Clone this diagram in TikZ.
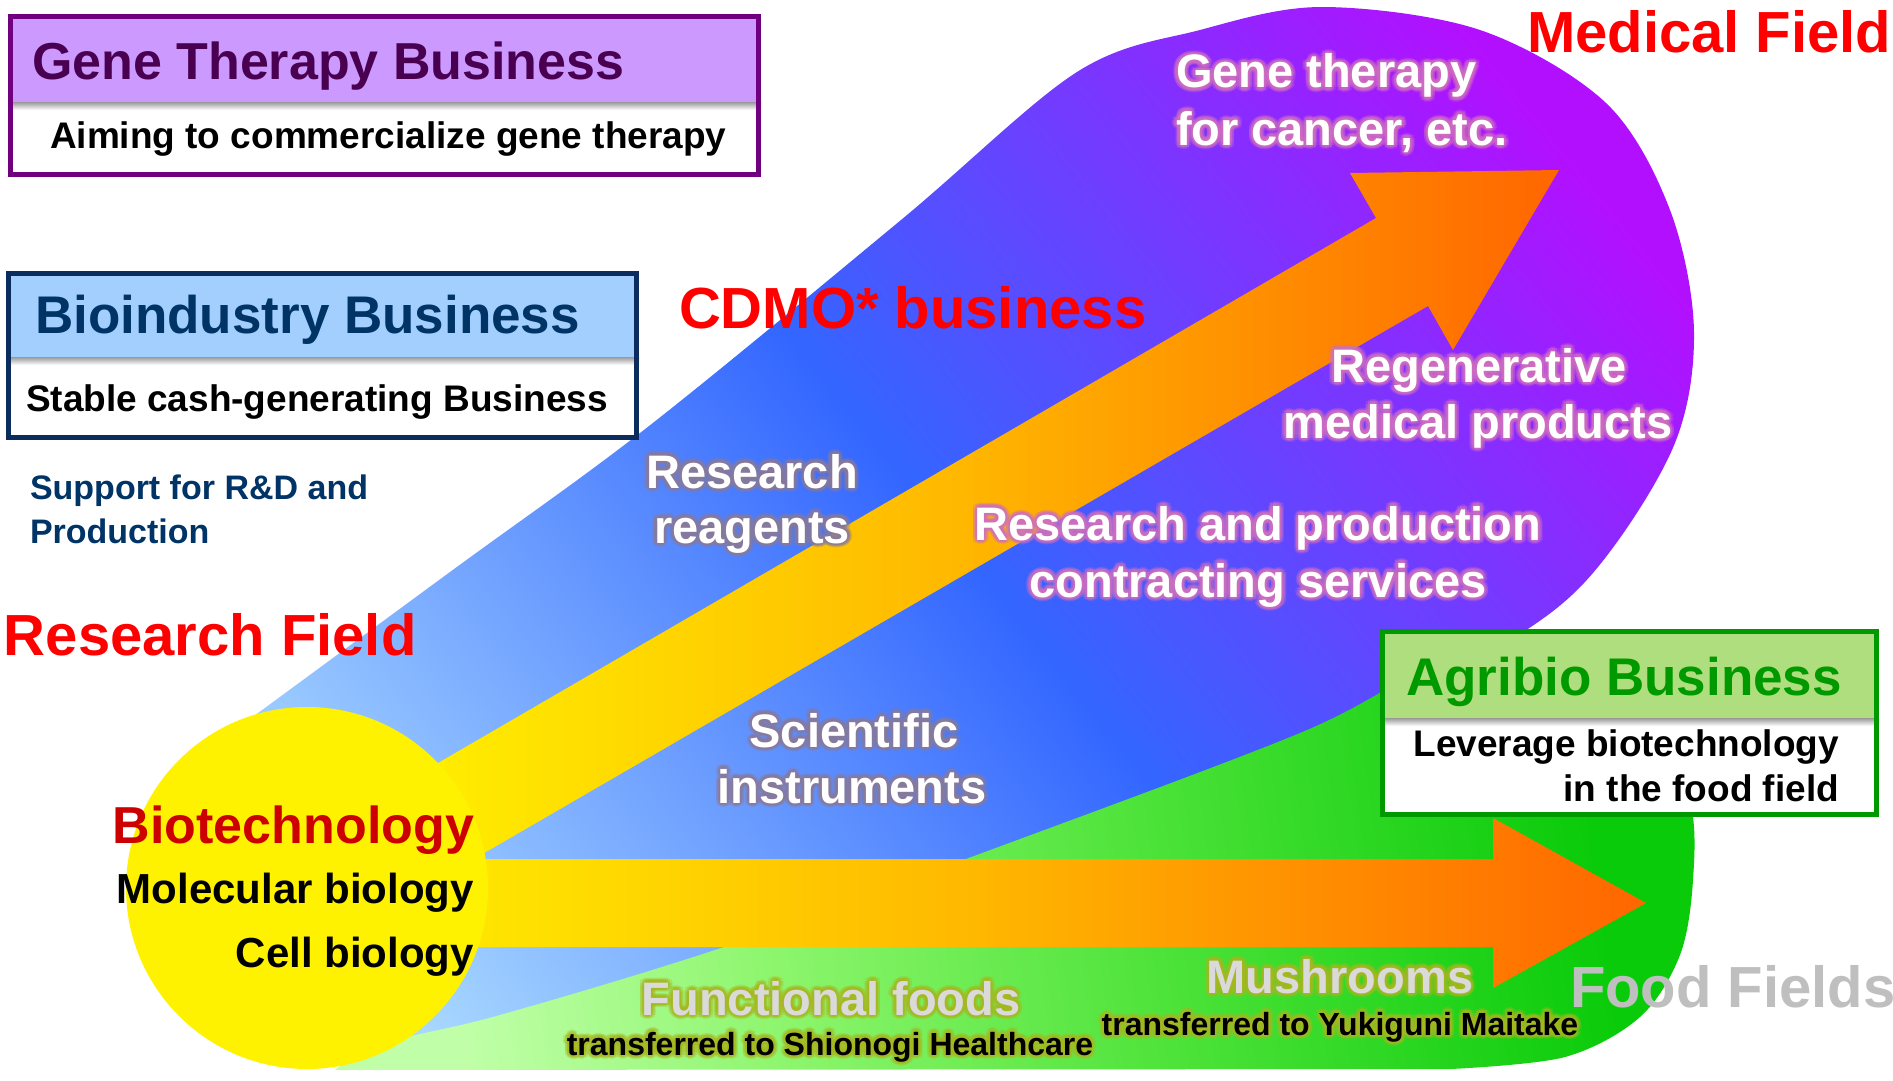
\documentclass[tikz,border=0pt]{standalone}
\usepackage{fontspec}
\setmainfont{Liberation Sans}
\usetikzlibrary{calc}
\definecolor{gtband}{HTML}{CC99FF}
\definecolor{gtborder}{HTML}{700080}
\definecolor{gttext}{HTML}{4A0050}
\definecolor{biband}{HTML}{A3CFFF}
\definecolor{biborder}{HTML}{0B2D5E}
\definecolor{bitext}{HTML}{003366}
\definecolor{agband}{HTML}{AEDE7E}
\definecolor{agborder}{HTML}{009900}
\definecolor{agtext}{HTML}{009900}
\definecolor{redlbl}{HTML}{FF0000}
\definecolor{biotech}{HTML}{CC0000}
\definecolor{foodgray}{HTML}{BFBFBF}
\definecolor{lightgray}{HTML}{DADADA}
\definecolor{bfa}{HTML}{A8D8FF}
\definecolor{bfb}{HTML}{3366FF}
\definecolor{bfc}{HTML}{B30FFF}
\definecolor{gfa}{HTML}{C0FFA8}
\definecolor{gfb}{HTML}{8CF56C}
\definecolor{gfc}{HTML}{4EE33A}
\definecolor{gfd}{HTML}{0ACB0A}
\definecolor{ya}{HTML}{FFF500}
\definecolor{yb}{HTML}{FFB800}
\definecolor{yc}{HTML}{FF6600}
\definecolor{pinkglow}{HTML}{D070C0}
\definecolor{greyglow}{HTML}{8A7A9A}
\definecolor{oliveglow}{HTML}{A8B820}
\pgfdeclarehorizontalshading{bluefan}{100bp}{color(0bp)=(bfa); color(22bp)=(bfa); color(50bp)=(bfb); color(78bp)=(bfc); color(100bp)=(bfc)}
\pgfdeclarehorizontalshading{greenfan}{100bp}{color(0bp)=(gfa); color(27bp)=(gfa); color(40bp)=(gfb); color(55bp)=(gfc); color(73bp)=(gfd); color(100bp)=(gfd)}
\pgfdeclarehorizontalshading{arrowsh}{100bp}{color(0bp)=(ya); color(25bp)=(ya); color(50bp)=(yb); color(75bp)=(yc); color(100bp)=(yc)}
\newcommand\fsz[1]{\fontsize{#1pt}{#1pt}\selectfont\bfseries}
\newcommand\glowtext[5]{%
  \foreach \ga in {0,30,...,330}{%
    \node[lbl,#3,text=#4,text opacity=0.25,xshift={4.5*cos(\ga)},yshift={4.5*sin(\ga)}] at (#2) {#5};
    \node[lbl,#3,text=#4,text opacity=0.25,xshift={2.5*cos(\ga)},yshift={2.5*sin(\ga)}] at (#2) {#5};
  }%
  \node[lbl,#3] (#1) at (#2) {#5};%
}
\begin{document}
\begin{tikzpicture}[x=1pt,y=-1pt,
  lbl/.style={inner sep=0pt, outer sep=0pt},
  glowW/.style={anchor=base, font=\fsz{47}, text=white},
  glowG/.style={anchor=base, font=\fsz{47}, text=lightgray},
  glowS/.style={anchor=base, font=\fsz{32}, text=black},
  bigred/.style={lbl, anchor=base west, font=\fsz{58}, text=redlbl}]
\useasboundingbox (0,0) rectangle (1893,1081);
\fill[white] (0,0) rectangle (1893,1081);

% blue-purple fan
\shade[shading=bluefan, shading angle=39] (320,1000) -- plot[smooth, tension=0.55] coordinates {(205,752) (450,572) (649,426) (901,220) (1077,72) (1200,30) (1322,7) (1480,30) (1606,103) (1670,210) (1694,333) (1672,450) (1584,583) (1470,665) (1250,790) (900,950) (550,1045) (330,1062)} -- cycle;
% green fan
\shade[shading=greenfan, shading angle=8] plot[smooth, tension=0.55] coordinates {(335,1070) (380,1044) (500,1015) (724,947) (966,859) (1300,733) (1440,662) (1560,642) (1650,700) (1690,800) (1693,880) (1680,955) (1640,1017) (1565,1057) (1451,1069)} -- cycle;

% arrows
\shade[shading=arrowsh] (352,813) -- (1376,218) -- (1350,173) -- (1559,170) -- (1453,350) -- (1428,306) -- (398,903) -- cycle;
\shade[shading=arrowsh] (300,859) -- (1493,859) -- (1493,818) -- (1646,903) -- (1493,988) -- (1493,947) -- (300,947) -- cycle;

% yellow circle
\node[circle, fill=yellow, minimum size=362pt, inner sep=0pt] (biocircle) at (307,888) {};
\node[lbl, anchor=base east, font=\fsz{52}, text=biotech] (biotechlbl) at (474,843) {Biotechnology};
\node[lbl, anchor=base east, font=\fsz{42}] (molbio) at (474,903) {Molecular biology};
\node[lbl, anchor=base east, font=\fsz{42}] (cellbio) at (474,967) {Cell biology};

% glowing labels
\glowtext{gt1}{1176,88}{glowW, anchor=base west}{pinkglow}{Gene therapy}
\glowtext{gt2}{1176,145}{glowW, anchor=base west}{pinkglow}{for cancer, etc.}
\glowtext{rg1}{1479,382}{glowW}{pinkglow}{Regenerative}
\glowtext{rg2}{1478,438}{glowW}{pinkglow}{medical products}
\glowtext{rp1}{1258,540}{glowW}{pinkglow}{Research and production}
\glowtext{rp2}{1258,597}{glowW}{pinkglow}{contracting services}
\glowtext{rr1}{752,488}{glowW}{greyglow}{Research}
\glowtext{rr2}{752,543}{glowW}{greyglow}{reagents}
\glowtext{si1}{854,747}{glowW}{greyglow}{Scientific}
\glowtext{si2}{852,803}{glowW}{greyglow}{instruments}
\glowtext{ff1}{831,1015}{glowG}{oliveglow}{Functional foods}
\glowtext{ff2}{830,1055}{glowS}{oliveglow}{transferred to Shionogi Healthcare}
\glowtext{mu1}{1340,993}{glowG}{oliveglow}{Mushrooms}
\glowtext{mu2}{1340,1035}{glowS}{oliveglow}{transferred to Yukiguni Maitake}

% red field labels
\node[bigred] (cdmo) at (679,328) {CDMO* business};
\node[bigred] (resfield) at (4,655) {Research Field};
\node[bigred] (medfield) at (1527,53) {Medical Field};
\node[bigred, text=foodgray] (foodfield) at (1570,1007) {Food Fields};

% Gene therapy box
\fill[white] (8,14) rectangle (761,177);
\fill[gtband] (8,14) rectangle (761,102);
\shade[top color=black!40, bottom color=white] (8,102) rectangle (761,110);
\draw[gtborder, line width=5pt] (10.5,16.5) rectangle (758.5,174.5);
\node[lbl, anchor=base west, font=\fsz{52}, text=gttext] (gttitle) at (32,79) {Gene Therapy Business};
\node[lbl, anchor=base west, font=\fsz{37}] (gtsub) at (50,148) {Aiming to commercialize gene therapy};

% Bioindustry box
\fill[white] (6,271) rectangle (639,440);
\fill[biband] (6,271) rectangle (639,357);
\shade[top color=black!40, bottom color=white] (6,357) rectangle (639,365);
\draw[biborder, line width=5pt] (8.5,273.5) rectangle (636.5,437.5);
\node[lbl, anchor=base west, font=\fsz{53}, text=bitext] (bititle) at (35,333) {Bioindustry Business};
\node[lbl, anchor=base west, font=\fsz{37}] (bisub) at (26,411) {Stable cash-generating Business};
\node[lbl, anchor=base west, font=\fsz{34}, text=bitext] (sup1) at (30,499) {Support for R\&D and};
\node[lbl, anchor=base west, font=\fsz{34}, text=bitext] (sup2) at (30,543) {Production};

% Agribio box
\fill[white] (1380,629) rectangle (1879,817);
\fill[agband] (1380,629) rectangle (1879,718);
\shade[top color=black!40, bottom color=white] (1380,718) rectangle (1879,726);
\draw[agborder, line width=5pt] (1382.5,631.5) rectangle (1876.5,814.5);
\node[lbl, anchor=base west, font=\fsz{53}, text=agtext] (agtitle) at (1406,695) {Agribio Business};
\node[lbl, anchor=base east, font=\fsz{37}] (agsub1) at (1839,756) {Leverage biotechnology};
\node[lbl, anchor=base east, font=\fsz{37}] (agsub2) at (1839,801) {in the food field};
\end{tikzpicture}
\end{document}
